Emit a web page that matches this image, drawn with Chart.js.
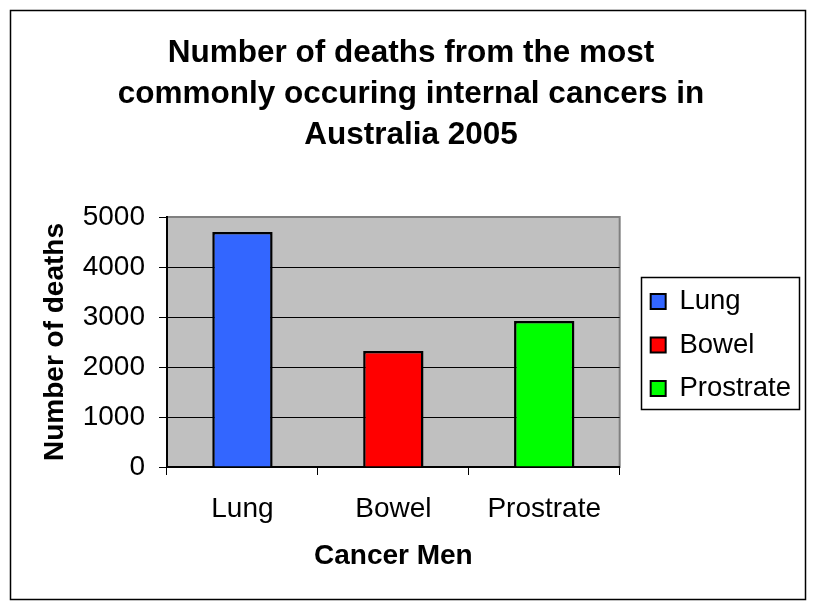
<!DOCTYPE html>
<html>
<head>
<meta charset="utf-8">
<script src="https://cdn.jsdelivr.net/npm/chart.js@4"></script>
<style>
  html, body { margin: 0; padding: 0; background: #fff; }
</style>
</head>
<body>
<canvas id="cancerChart" width="818" height="611"></canvas>
<script>
// datos
const titleLines = ['Number of deaths from the most', 'commonly occuring internal cancers in', 'Australia 2005'];
const categories = ['Lung', 'Bowel', 'Prostrate'];
const deaths = [4700, 2320, 2920];
const barColours = ['#3366FF', '#FF0000', '#00FF00'];
const yTicks = [0, 1000, 2000, 3000, 4000, 5000];
const xTitle = 'Cancer Men';
const yTitle = 'Number of deaths';

Chart.defaults.font.family = "'Liberation Sans', Arial, sans-serif";
Chart.defaults.color = '#000';

// fondo, marco exterior, area gris y borde de la leyenda
const marco = {
  id: 'marco',
  beforeDraw(chart) {
    const { ctx, chartArea: a } = chart;
    ctx.save();
    ctx.fillStyle = '#fff';
    ctx.fillRect(0, 0, chart.width, chart.height);
    ctx.strokeStyle = '#000';
    ctx.lineWidth = 1.5;
    ctx.strokeRect(10.5, 10.5, 795, 589);
    ctx.fillStyle = '#C0C0C0';
    ctx.fillRect(a.left, a.top, a.width, a.height);
    ctx.strokeStyle = '#808080';
    ctx.lineWidth = 2;
    ctx.strokeRect(a.left, a.top, a.width, a.height);
    ctx.restore();
  },
  afterLayout(chart) {
    const lg = chart.legend;
    lg.left += 15; lg.right += 15;
    lg.top += 3; lg.bottom += 3;
    const t = chart.titleBlock;
    t.left = 4; t.right = 818;
  },
  afterDraw(chart) {
    const hb = chart.legend.legendHitBoxes;
    if (!hb || !hb.length) return;
    const l = Math.min(...hb.map(h => h.left));
    const t = Math.min(...hb.map(h => h.top));
    const r = Math.max(...hb.map(h => h.left + h.width));
    const b = Math.max(...hb.map(h => h.top + h.height));
    const ctx = chart.ctx;
    ctx.save();
    ctx.strokeStyle = '#000';
    ctx.lineWidth = 1.5;
    ctx.strokeRect(Math.round(l - 10) + 0.5, Math.round(t - 11) + 0.5, Math.round(r - l + 18), Math.round(b - t + 17));
    ctx.restore();
  }
};

new Chart(document.getElementById('cancerChart'), {
  type: 'bar',
  data: {
    labels: categories,
    datasets: [{
      label: 'Number of deaths',
      data: deaths,
      backgroundColor: barColours,
      borderColor: '#000',
      borderWidth: 2.5,
      categoryPercentage: 1,
      barPercentage: 0.4
    }]
  },
  options: {
    responsive: false,
    animation: false,
    layout: { padding: { top: 20, left: 20, bottom: 20, right: 32 } },
    plugins: {
      title: {
        display: true,
        text: titleLines,
        font: { size: 31.5, weight: 'bold', lineHeight: 41 / 31.5 },
        padding: { top: 12.5, bottom: 61.5 }
      },
      legend: {
        position: 'right',
        fullSize: false,
        labels: {
          boxWidth: 15,
          boxHeight: 15,
          padding: 16,
          font: { size: 27.5 },
          generateLabels(chart) {
            const ds = chart.data.datasets[0];
            return chart.data.labels.map((label, i) => ({
              text: label,
              fillStyle: ds.backgroundColor[i],
              strokeStyle: '#000',
              lineWidth: 2,
              hidden: false,
              index: i
            }));
          }
        },
        onClick() {}
      },
      tooltip: { enabled: false }
    },
    scales: {
      x: {
        afterFit(s) { s.height = 124; },
        grid: {
          offset: true,
          drawOnChartArea: false,
          drawTicks: true,
          tickLength: 8,
          tickColor: '#000',
          lineWidth: 1
        },
        border: { color: '#000', width: 2 },
        ticks: { font: { size: 28 }, padding: 17 },
        title: {
          display: true,
          text: xTitle,
          font: { size: 28, weight: 'bold' },
          padding: { top: 16, bottom: 18 }
        }
      },
      y: {
        min: yTicks[0],
        max: yTicks[yTicks.length - 1],
        afterFit(s) { s.width = 147; },
        ticks: {
          stepSize: yTicks[1] - yTicks[0],
          font: { size: 28 },
          padding: 14,
          callback: v => String(v)
        },
        grid: {
          color: ctx => (ctx.tick && ctx.tick.value === yTicks[yTicks.length - 1]) ? '#808080' : '#000',
          lineWidth: 1,
          tickLength: 8,
          tickColor: '#000'
        },
        border: { color: '#000', width: 2 },
        title: {
          display: true,
          text: yTitle,
          font: { size: 28, weight: 'bold' },
          padding: { top: 18, bottom: 10 }
        }
      }
    }
  },
  plugins: [marco]
});
</script>
</body>
</html>
